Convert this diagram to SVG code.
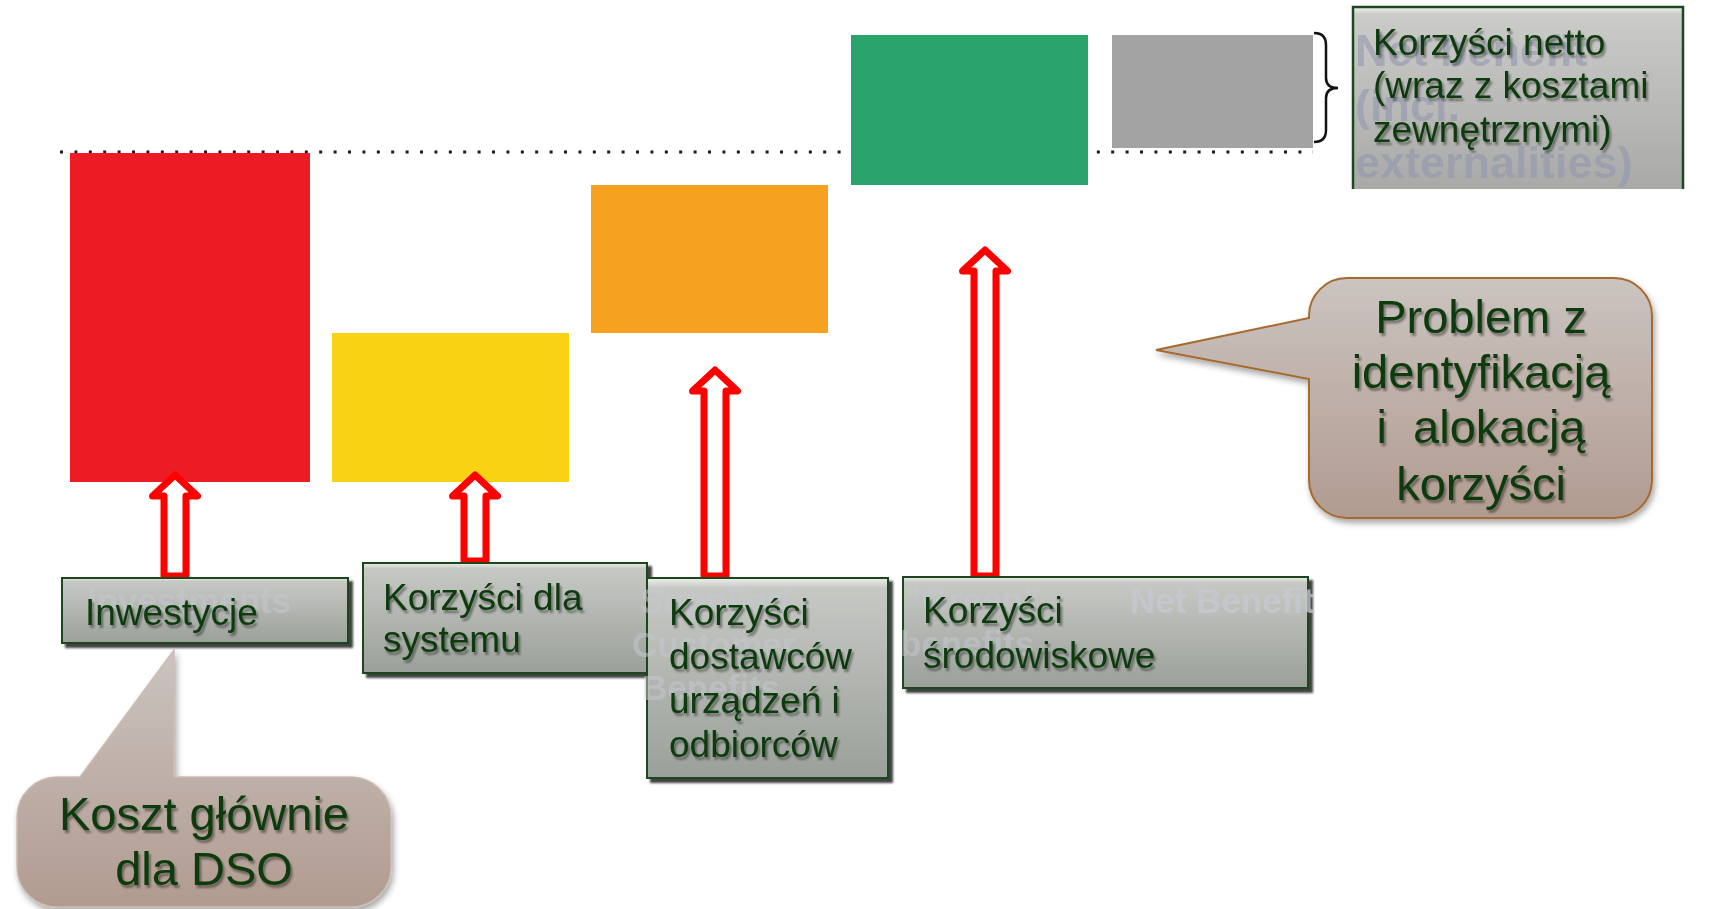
<svg xmlns="http://www.w3.org/2000/svg" width="1713" height="909" viewBox="0 0 1713 909">
  <defs>
    <linearGradient id="gBox" x1="0" y1="0" x2="0" y2="1">
      <stop offset="0" stop-color="#eef0ec"/>
      <stop offset="0.05" stop-color="#c6c8c4"/>
      <stop offset="1" stop-color="#9ba09a"/>
    </linearGradient>
    <linearGradient id="gNet" x1="0" y1="0" x2="0" y2="1">
      <stop offset="0" stop-color="#f2f2f2"/>
      <stop offset="0.04" stop-color="#cbcbca"/>
      <stop offset="1" stop-color="#a9aaa8"/>
    </linearGradient>
    <linearGradient id="gCallout" x1="0" y1="0" x2="0" y2="1">
      <stop offset="0" stop-color="#cbc4c0"/>
      <stop offset="1" stop-color="#b19b90"/>
    </linearGradient>
    <filter id="boxShadow" x="-5%" y="-5%" width="115%" height="125%">
      <feDropShadow dx="4" dy="4" stdDeviation="0.8" flood-color="#2e2e2e" flood-opacity="0.9"/>
    </filter>
    <filter id="softShadow" x="-10%" y="-10%" width="125%" height="130%">
      <feDropShadow dx="2" dy="4" stdDeviation="3" flood-color="#000" flood-opacity="0.35"/>
    </filter>
    <filter id="textShadow" x="-5%" y="-20%" width="115%" height="150%">
      <feDropShadow dx="2" dy="3" stdDeviation="1.2" flood-color="#000" flood-opacity="0.4"/>
    </filter>
    <style>
      .lbl { font-family: "Liberation Sans", Arial, sans-serif; font-size: 37px; fill: #0a3a0a; filter: url(#textShadow); }
      .big { font-family: "Liberation Sans", Arial, sans-serif; font-size: 47px; fill: #0a3a0a; text-anchor: middle; filter: url(#textShadow); white-space: pre; }
      .ghost { font-family: "Liberation Sans", Arial, sans-serif; font-weight: bold; font-size: 35px; fill: #c6c9d2; opacity: 0.5; }
      .ghostDark { font-family: "Liberation Sans", Arial, sans-serif; font-weight: bold; font-size: 45px; fill: #8f95ad; opacity: 0.55; }
      .box { fill: url(#gBox); stroke: #1d471d; stroke-width: 2; filter: url(#boxShadow); }
      .arrow { fill: #ffffff; stroke: #ff0000; stroke-width: 7; stroke-linejoin: round; }
      .callout { fill: url(#gCallout); filter: url(#softShadow); }
    </style>
  </defs>

  <rect width="1713" height="909" fill="#ffffff"/>

  <!-- reference level -->
  <path d="M60,152 H1313" stroke="#1a1a1a" stroke-width="3" stroke-dasharray="3 11.4" fill="none"/>

  <!-- waterfall bars -->
  <g id="bars">
    <rect id="bar-invest" x="70" y="153" width="240" height="329" fill="#ed1c24"/>
    <rect id="bar-system" x="332" y="333" width="237" height="149" fill="#f9d313"/>
    <rect id="bar-supplier" x="591" y="185" width="237" height="148" fill="#f7a121"/>
    <rect id="bar-green" x="851" y="35" width="237" height="150" fill="#2ba46c"/>
    <rect id="bar-net" x="1112" y="35" width="201" height="113" fill="#a3a3a3"/>
  </g>

  <!-- brace -->
  <path d="M1314,33 Q1326,33 1326,45 V78 Q1326,88 1338,88 Q1326,88 1326,98 V130 Q1326,142 1314,142" fill="none" stroke="#111" stroke-width="2.5"/>

  <!-- net benefit caption -->
  <g id="net-caption">
    <rect x="1353" y="7" width="330" height="182" fill="url(#gNet)"/>
    <path d="M1353,189 V7 H1683 V189" fill="none" stroke="#1d471d" stroke-width="2.5"/>
    <text class="ghostDark" x="1355" y="66">Net benefit</text>
    <text class="ghostDark" x="1355" y="121">(incl.</text>
    <text class="ghostDark" x="1355" y="178">externalities)</text>
    <text class="lbl" x="1373" y="55">Korzyści netto</text>
    <text class="lbl" x="1373" y="98">(wraz z kosztami</text>
    <text class="lbl" x="1373" y="142">zewnętrznymi)</text>
  </g>

  <!-- connectors: arrows from labels up to bars -->
  <g id="connectors">
    <path class="arrow" d="M164,576 V496 H152.5 L175,475 L197.5,496 H186 V576 Z"/>
    <path class="arrow" d="M464,561 V496 H452.5 L475,475 L497.5,496 H486 V561 Z"/>
    <path class="arrow" d="M704,576 V391 H692.5 L715,370 L737.5,391 H726 V576 Z"/>
    <path class="arrow" d="M974,576 V271 H962.5 L985,250 L1007.5,271 H996 V576 Z"/>
  </g>

  <g id="label-invest">
    <rect class="box" x="62" y="578" width="286" height="65"/>
    <text class="ghost" x="87" y="613">Investments</text>
    <text class="lbl" x="85" y="625">Inwestycje</text>
  </g>

  <g id="label-system">
    <rect class="box" x="363" y="563" width="284" height="110"/>
    <text class="lbl" x="383" y="610">Korzyści dla</text>
    <text class="lbl" x="383" y="652">systemu</text>
  </g>

  <g id="label-supplier">
    <rect class="box" x="647" y="578" width="241" height="200"/>
    <text class="ghost" x="640" y="613">Supplier/</text>
    <text class="ghost" x="632" y="657">Customer</text>
    <text class="ghost" x="642" y="700">Benefits</text>
    <text class="lbl" x="669" y="625">Korzyści</text>
    <text class="lbl" x="669" y="669">dostawców</text>
    <text class="lbl" x="669" y="713">urządzeń i</text>
    <text class="lbl" x="669" y="757">odbiorców</text>
  </g>

  <g id="label-green">
    <rect class="box" x="903" y="577" width="405" height="111"/>
    <text class="ghost" x="905" y="612">"Green"</text>
    <text class="ghost" x="900" y="656">benefits</text>
    <text class="ghost" x="1130" y="613" style="opacity:0.75">Net Benefit</text>
    <text class="lbl" x="923" y="623">Korzyści</text>
    <text class="lbl" x="923" y="668">środowiskowe</text>
  </g>

  <g id="callout-allocation">
    <path class="callout" d="M1347,278 H1614 A38,38 0 0 1 1652,316 V480 A38,38 0 0 1 1614,518 H1347 A38,38 0 0 1 1309,480 V379 L1156,350 L1309,318 V316 A38,38 0 0 1 1347,278 Z" stroke="#a66a2e" stroke-width="2"/>
    <text class="big" x="1481" y="333">Problem z</text>
    <text class="big" x="1481" y="388">identyfikacją</text>
    <text class="big" x="1481" y="443">i  alokacją</text>
    <text class="big" x="1481" y="500">korzyści</text>
  </g>

  <g id="callout-dso">
    <path class="callout" d="M57,777 H80 L174,650 V777 H351 A40,40 0 0 1 391,817 V867 A40,40 0 0 1 351,907 H57 A40,40 0 0 1 17,867 V817 A40,40 0 0 1 57,777 Z" stroke="#cbbcb2" stroke-width="1.5"/>
    <text class="big" x="204" y="830">Koszt głównie</text>
    <text class="big" x="204" y="885">dla DSO</text>
  </g>
</svg>
